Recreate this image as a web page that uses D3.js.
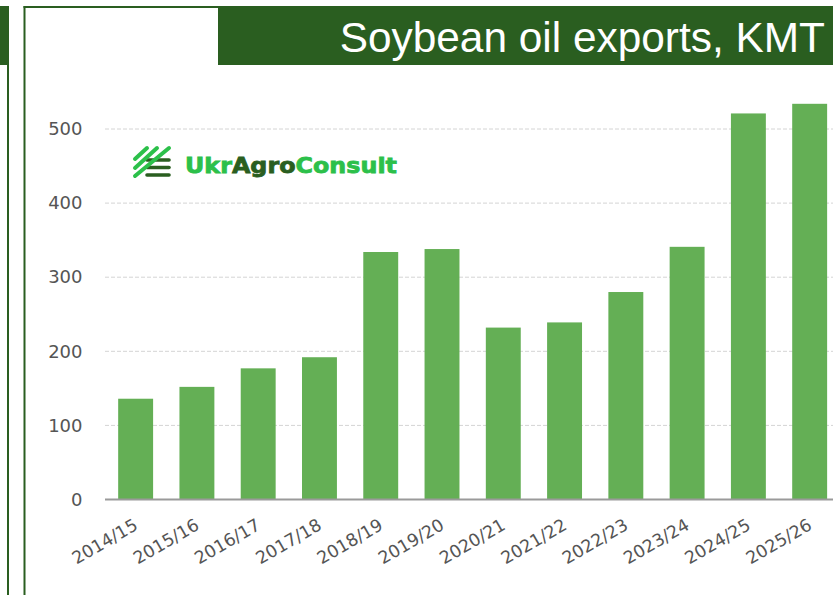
<!DOCTYPE html>
<html><head><meta charset="utf-8">
<script src="https://cdn.jsdelivr.net/npm/d3@7/dist/d3.min.js"></script>
<style>html,body{margin:0;padding:0;background:#fff;overflow:hidden}svg{display:block}</style>
</head><body><svg id="c" width="833" height="595"></svg>
<script>
const categories=["2014/15","2015/16","2016/17","2017/18","2018/19","2019/20","2020/21","2021/22","2022/23","2023/24","2024/25","2025/26"];
const exportsKmt=[136,152,177,192,334,338,232,239,280,341,521,534];
const yTicks=[0,100,200,300,400,500];
const titleText="Soybean oil exports, KMT";
const dark="#2a5e20";
const svg=d3.select("#c");
// panel frames
svg.append("rect").attr("x",0).attr("y",6).attr("width",9).attr("height",59).attr("fill",dark);
svg.append("rect").attr("x",7).attr("y",65).attr("width",2).attr("height",530).attr("fill",dark);
svg.append("rect").attr("x",23.5).attr("y",6).attr("width",2).attr("height",589).attr("fill",dark);
svg.append("rect").attr("x",23.5).attr("y",6).attr("width",200).attr("height",2).attr("fill",dark);
svg.append("rect").attr("x",218).attr("y",6).attr("width",615).attr("height",59).attr("fill",dark);
svg.append("text").attr("x",825).attr("y",52).attr("text-anchor","end").attr("fill","#fff")
  .attr("font-family","'Liberation Sans',Arial,sans-serif").attr("font-size",42.4).text(titleText);
// scales
const x=d3.scaleBand().domain(categories).range([105,840.3]).paddingInner(0.43).paddingOuter(0.215);
const y=d3.scaleLinear().domain([0,500]).range([499.5,129]);
// grid
const g=svg.append("g");
g.selectAll("line.grid").data(yTicks.filter(d=>d>0)).join("line").attr("class","grid")
  .attr("x1",105).attr("x2",833).attr("y1",d=>y(d)).attr("y2",d=>y(d))
  .attr("stroke","#d4d4d4").attr("stroke-width",1).attr("stroke-dasharray","4 2");
// bars
g.selectAll("rect.bar").data(exportsKmt).join("rect").attr("class","bar")
  .attr("x",(d,i)=>x(categories[i])).attr("width",x.bandwidth())
  .attr("y",d=>y(d)).attr("height",d=>y(0)-y(d)).attr("fill","#64af55");
// axes
const yAxis=d3.axisLeft(y).tickValues(yTicks).tickSize(0).tickPadding(22.5);
const ya=svg.append("g").attr("transform","translate(105,0)").call(yAxis);
ya.select(".domain").remove();
ya.selectAll("text").attr("font-family","'DejaVu Sans',sans-serif").attr("font-size",18).attr("fill","#555");
const xAxis=d3.axisBottom(x).tickSize(0);
const xa=svg.append("g").attr("transform","translate(0,499.5)").call(xAxis);
xa.select(".domain").remove();
svg.append("line").attr("x1",105).attr("x2",833).attr("y1",499.5).attr("y2",499.5).attr("stroke","#9a9a9a").attr("stroke-width",2);
xa.selectAll("text").attr("font-family","'DejaVu Sans',sans-serif").attr("font-size",17.4).attr("fill","#555")
  .attr("text-anchor","end").attr("dy",null).attr("y",0)
  .attr("transform","translate(-3,18) rotate(-30)").attr("dominant-baseline","hanging");
// logo
const logo=svg.append("g").attr("stroke-linecap","round");
[0,1,2].forEach(r=>logo.append("line").attr("x1",147).attr("x2",169).attr("y1",160+r*7.5).attr("y2",160+r*7.5).attr("stroke",dark).attr("stroke-width",3.6));
[[135,159,147,148],[135,168,157,148],[135,176,169,148]].forEach(s=>logo.append("line").attr("x1",s[0]).attr("y1",s[1]).attr("x2",s[2]).attr("y2",s[3]).attr("stroke","#2cc04a").attr("stroke-width",4));
const t=svg.append("text").attr("x",185).attr("y",173).attr("font-family","'DejaVu Sans',sans-serif").attr("font-weight",700).attr("font-size",22).attr("textLength",212).attr("lengthAdjust","spacingAndGlyphs").attr("stroke-width",0.8);
t.append("tspan").attr("fill","#2cc04a").attr("stroke","#2cc04a").text("Ukr");
t.append("tspan").attr("fill",dark).attr("stroke",dark).text("Agro");
t.append("tspan").attr("fill","#2cc04a").attr("stroke","#2cc04a").text("Consult");
</script></body></html>
